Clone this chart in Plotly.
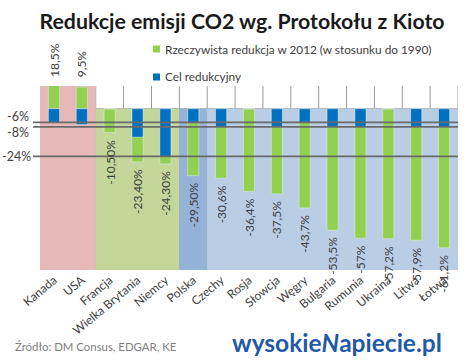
import plotly.graph_objects as go

# ---- data ----
categories = ["Kanada", "USA", "Francja", "Wielka Brytania", "Niemcy", "Polska",
              "Czechy", "Rosja", "Słowcja", "Węgry", "Bulgaria", "Rumunia",
              "Ukraina", "Litwa", "Łotwa"]
actual = [18.5, 9.5, -10.5, -23.4, -24.3, -29.5, -30.6, -36.4, -37.5, -43.7,
          -53.5, -57.0, -57.2, -57.9, -61.2]
actual_labels = ["18,5%", "9,5%", "-10,50%", "-23,40%", "-24,30%", "-29,50%",
                 "-30,6%", "-36,4%", "-37,5%", "-43,7%", "-53,5%", "-57%",
                 "-57,2%", "-57,9%", "-61,2%"]
target = [-6, -7, 0, -12.5, -21, -6, -8, 0, -8, -6, -8, -8, 0, -8, -8]
ref_values = [-6, -8, -21]
ref_labels = ["-6%", "-8%", "-24%"]
group_start = [0, 2, 5, 6]
group_end = [1, 4, 5, 14]

series_names = ["Rzeczywista redukcja w 2012 (w stosunku do 1990)", "Cel redukcyjny"]

# ---- style ----
W, H = 474, 364
L, R, T, B = 40, 458, 86, 270
Y_RANGE = [-71, 10]
GREEN = "#92D050"
BLUE = "#0070C0"
group_colors = ["#E6B9B8", "#C4D79B", "#95B3D7", "#B9CDE5"]
group_to_top = [True, False, False, False]
ref_label_shift = [6, -6, 0]
ref_label_right = [31, 31, 33]
FONT = "Lato"
TXT = "#404040"


def px2x(px):
    return (px - L) / (R - L)


def py2y(py):
    return (B - py) / (B - T)


fig = go.Figure()
fig.add_trace(go.Bar(x=categories, y=actual, marker_color=GREEN, width=0.4,
                     name=series_names[0], showlegend=False, hoverinfo="x+y"))
fig.add_trace(go.Bar(x=categories, y=target, marker_color=BLUE, width=0.4,
                     name=series_names[1], showlegend=False, hoverinfo="x+y"))

shapes = []
# coloured backgrounds
for s, e, c, top in zip(group_start, group_end, group_colors, group_to_top):
    shapes.append(dict(type="rect", xref="x", yref="y", x0=s - 0.5, x1=e + 0.5,
                       y0=Y_RANGE[0], y1=Y_RANGE[1] if top else 0,
                       fillcolor=c, line_width=0, layer="below"))
# vertical column separators
for i in range(len(categories) + 1):
    shapes.append(dict(type="line", xref="x", yref="paper", x0=i - 0.5, x1=i - 0.5,
                       y0=0, y1=1, line=dict(color="#9A9A9A", width=1), layer="below"))
# zero line
shapes.append(dict(type="line", xref="paper", yref="y", x0=0, x1=1, y0=0, y1=0,
                   line=dict(color="#A0A0A0", width=1), layer="below"))
# reference lines
for v in ref_values:
    shapes.append(dict(type="line", xref="paper", yref="y", x0=px2x(33), x1=1,
                       y0=v, y1=v, line=dict(color="#6A6A6A", width=1.6), layer="above"))
# legend squares
for c, cy in zip([GREEN, BLUE], [49, 77]):
    shapes.append(dict(type="rect", xref="paper", yref="paper",
                       x0=px2x(153), x1=px2x(160), y0=py2y(cy + 3.5), y1=py2y(cy - 3.5),
                       fillcolor=c, line_width=0))

annotations = []
# data labels
for c, v, t in zip(categories, actual, actual_labels):
    if v > 0:
        annotations.append(dict(x=c, y=1, xref="x", yref="paper", text=t, textangle=-90,
                                showarrow=False, yanchor="bottom", yshift=7,
                                font=dict(family=FONT, size=12, color=TXT)))
    else:
        annotations.append(dict(x=c, y=v, xref="x", yref="y", text=t, textangle=-90,
                                showarrow=False, yanchor="top", yshift=-5,
                                font=dict(family=FONT, size=12, color=TXT)))
# reference labels
for v, t, sh, rx in zip(ref_values, ref_labels, ref_label_shift, ref_label_right):
    annotations.append(dict(x=px2x(rx), y=v, xref="paper", yref="y", text=t,
                            showarrow=False, xanchor="right", yanchor="middle", yshift=sh,
                            font=dict(family=FONT, size=12.5, color=TXT)))
# legend text
for name, cy in zip(series_names, [49, 77]):
    annotations.append(dict(x=px2x(163), y=py2y(cy), xref="paper", yref="paper", text=name,
                            showarrow=False, xanchor="left", yanchor="middle",
                            font=dict(family=FONT, size=11.8, color=TXT)))
# source
annotations.append(dict(x=px2x(13), y=py2y(346), xref="paper", yref="paper",
                        text="Źródło: DM Consus, EDGAR, KE", showarrow=False,
                        xanchor="left", yanchor="middle",
                        font=dict(family=FONT, size=11.4, color="#808080")))
# logo
annotations.append(dict(x=px2x(337), y=py2y(342), xref="paper", yref="paper",
                        text="<b>wysokie<i>N</i>apiecie.pl</b>", showarrow=False,
                        xanchor="center", yanchor="middle",
                        font=dict(family=FONT, size=24.5, color="#1F5AA6")))

fig.update_layout(
    width=W, height=H,
    margin=dict(l=L, r=W - R, t=T, b=H - B, pad=0),
    paper_bgcolor="white", plot_bgcolor="white",
    barmode="overlay",
    title=dict(text="<b>Redukcje emisji CO2 wg. Protokołu z Kioto</b>",
               x=242 / W, xanchor="center", y=1 - 22 / H, yanchor="middle",
               font=dict(family=FONT, size=21.3, color="#1A1A1A")),
    xaxis=dict(range=[-0.5, len(categories) - 0.5], showgrid=False, zeroline=False,
               showline=False, ticks="", tickangle=-40, automargin=False,
               tickfont=dict(family=FONT, size=12, color=TXT)),
    yaxis=dict(range=Y_RANGE, showgrid=False, zeroline=False, showline=False,
               showticklabels=False, ticks="", automargin=False),
    shapes=shapes, annotations=annotations,
    showlegend=False,
)

fig.write_html("out.html", config={"displayModeBar": False},
               post_script="document.body.style.margin='0px';")
